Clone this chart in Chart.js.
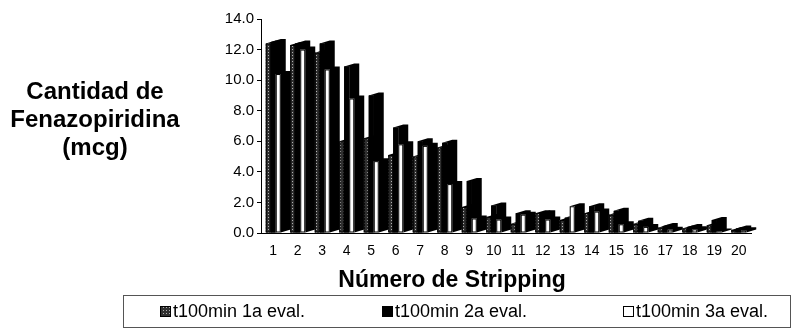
<!DOCTYPE html>
<html>
<head>
<meta charset="utf-8">
<script src="https://cdn.jsdelivr.net/npm/chart.js@4/dist/chart.umd.min.js"></script>
<style>
html,body{margin:0;padding:0;background:#fff;}
#wrap{width:805px;height:329px;}
</style>
</head>
<body>
<div id="wrap"><canvas id="c" width="805" height="329"></canvas></div>
<script>
const categories = ['1','2','3','4','5','6','7','8','9','10','11','12','13','14','15','16','17','18','19','20'];
const eval1 = [12.4, 12.3, 11.8, 6.0, 6.2, 5.1, 5.0, 5.6, 1.7, 1.05, 0.6, 1.3, 0.85, 1.3, 1.2, 0.6, 0.35, 0.3, 0.5, 0.2];
const eval2 = [12.5, 12.4, 12.4, 10.9, 9.0, 6.9, 6.0, 5.9, 3.4, 1.8, 1.3, 1.3, 1.0, 1.75, 1.45, 0.8, 0.45, 0.4, 0.85, 0.3];
const eval3 = [10.4, 12.0, 10.7, 8.8, 4.7, 5.8, 5.7, 3.2, 0.95, 0.88, 1.2, 0.88, 1.75, 1.4, 0.57, 0.4, 0.22, 0.24, 0.1, 0.18];
const seriesNames = ['t100min 1a eval.', 't100min 2a eval.', 't100min 3a eval.'];
const yTitleLines = ['Cantidad de', 'Fenazopiridina', '(mcg)'];
const xTitle = 'Número de Stripping';

const FONT = '"Liberation Sans", Arial, sans-serif';

function makePattern(){
  const p = document.createElement('canvas');
  p.width = 3; p.height = 3;
  const g = p.getContext('2d');
  g.fillStyle = '#303030'; g.fillRect(0,0,3,3);
  g.fillStyle = '#b0b0b0'; g.fillRect(1,1,1,1);
  return g.createPattern(p,'repeat');
}
const hatch = makePattern();
const fills = [hatch, '#000', '#fff'];

const depth3d = {
  id: 'depth3d',
  afterDatasetsDraw(chart){
    const ctx = chart.ctx;
    const dx = 10, dy = 3;
    const n = chart.data.labels.length;
    for (let i = 0; i < n; i++){
      chart.data.datasets.forEach((ds, d) => {
        const el = chart.getDatasetMeta(d).data[i];
        const w = el.width, l = el.x - w/2, r = el.x + w/2, t = el.y, b = el.base;
        ctx.save();
        ctx.fillStyle = '#000';
        ctx.beginPath();
        ctx.moveTo(l, t); ctx.lineTo(l+dx, t-dy); ctx.lineTo(r+dx, t-dy);
        ctx.lineTo(r+dx, b-dy); ctx.lineTo(r, b); ctx.lineTo(r, t); ctx.closePath();
        ctx.fill();
        ctx.fillStyle = ds.backgroundColor;
        ctx.fillRect(l, t, w, b - t);
        ctx.strokeStyle = '#000'; ctx.lineWidth = 1;
        ctx.strokeRect(l+0.5, t+0.5, w-1, Math.max(b - t - 1, 0));
        ctx.restore();
      });
    }
  }
};

const decorations = {
  id: 'decorations',
  afterDraw(chart){
    const ctx = chart.ctx;
    ctx.save();
    ctx.fillStyle = '#000';
    ctx.textAlign = 'center';
    ctx.textBaseline = 'middle';
    ctx.font = 'bold 24px ' + FONT;
    const ys = [92, 120, 148];
    yTitleLines.forEach((s, k) => ctx.fillText(s, 95, ys[k]));
    ctx.font = 'bold 23px ' + FONT;
    ctx.fillText(xTitle, 452, 281);
    // legend
    ctx.strokeStyle = '#555';
    ctx.lineWidth = 1;
    ctx.strokeRect(123.5, 295.5, 667, 32);
    const lx = [160, 382, 623];
    ctx.font = '18px ' + FONT;
    ctx.textAlign = 'left';
    chart.data.datasets.forEach((ds, d) => {
      ctx.fillStyle = ds.backgroundColor;
      ctx.fillRect(lx[d], 306, 11, 11);
      ctx.strokeStyle = '#000';
      ctx.strokeRect(lx[d] + 0.5, 306.5, 10, 10);
      ctx.fillStyle = '#000';
      ctx.fillText(ds.label, lx[d] + 13, 312);
    });
    ctx.restore();
  }
};

new Chart(document.getElementById('c'), {
  type: 'bar',
  data: {
    labels: categories,
    datasets: [
      { label: seriesNames[0], data: eval1, backgroundColor: fills[0], borderColor: '#000', borderWidth: 1 },
      { label: seriesNames[1], data: eval2, backgroundColor: fills[1], borderColor: '#000', borderWidth: 1 },
      { label: seriesNames[2], data: eval3, backgroundColor: fills[2], borderColor: '#000', borderWidth: 1 }
    ]
  },
  options: {
    responsive: false,
    animation: false,
    devicePixelRatio: 1,
    layout: { padding: { left: 211, right: 54, top: 19, bottom: 32 } },
    datasets: { bar: { categoryPercentage: 0.612, barPercentage: 1.0 } },
    scales: {
      x: {
        grid: { display: false, drawTicks: false },
        border: { display: true, color: '#000', width: 1 },
        ticks: { color: '#000', font: { family: '"Liberation Sans Narrow", "Liberation Sans", Arial, sans-serif', size: 14 }, padding: 10, maxRotation: 0, autoSkip: false },
        afterFit(scale){ scale.height = 64; }
      },
      y: {
        min: 0, max: 14,
        grid: { display: true, drawOnChartArea: false, drawTicks: true, tickLength: 4, color: '#000' },
        border: { display: true, color: '#000', width: 1 },
        ticks: { stepSize: 2, autoSkip: false, color: '#000', font: { family: FONT, size: 15 }, padding: 3, callback: v => Number(v).toFixed(1) },
        afterFit(scale){ scale.width = 50; }
      }
    },
    plugins: {
      legend: { display: false },
      tooltip: { enabled: false }
    }
  },
  plugins: [depth3d, decorations]
});
</script>
</body>
</html>
